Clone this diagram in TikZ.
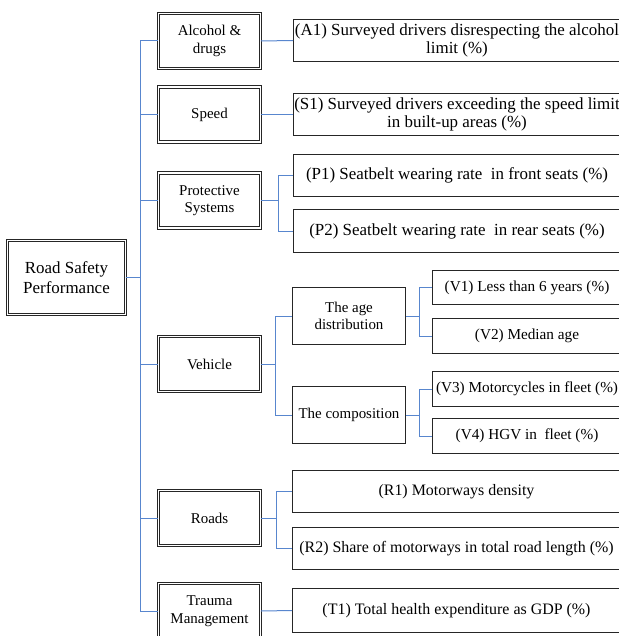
\documentclass[tikz,border=0pt]{standalone}
\usepackage{fontspec}
\setmainfont{Liberation Serif}
\definecolor{linkblue}{RGB}{88,134,206}

\begin{document}
\begin{tikzpicture}[x=1bp, y=-1bp,
    catbox/.style={draw=black!85, double, double distance=1.6bp, line width=0.8bp,
        minimum width=101.8bp, minimum height=55bp, inner sep=1bp, align=center,
        font=\fontsize{15}{17.5}\selectfont},
    rootbox/.style={catbox, minimum width=117.8bp, minimum height=73.8bp,
        font=\fontsize{17}{20}\selectfont},
    indbox/.style={draw=black!85, line width=0.8bp, inner sep=1bp, align=center,
        font=\fontsize{17}{21}\selectfont},
    subbox/.style={indbox, font=\fontsize{16}{19}\selectfont},
    vbox/.style={indbox, minimum width=189bp, minimum height=35bp,
        font=\fontsize{15.3}{18}\selectfont},
    link/.style={draw=linkblue, line width=1bp}]
    \useasboundingbox (0,0) rectangle (619,636);
    \clip (0,0) rectangle (619,636);

    % Root
    \node[rootbox] (root) at (66.5,277.5) {Road Safety\\Performance};

    % Categories
    \node[catbox] (alc) at (209.5,41) {Alcohol \&\\drugs};
    \node[catbox] (spd) at (209.5,114.5) {Speed};
    \node[catbox] (prot) at (209.5,200.5) {Protective\\Systems};
    \node[catbox] (veh) at (209.5,364) {Vehicle};
    \node[catbox] (roads) at (209.5,518) {Roads};
    \node[catbox] (trauma) at (209.5,611) {Trauma\\Management};

    % Indicators
    \node[indbox, minimum width=327bp, minimum height=42bp] (a1) at (457,40.5)
        {\raisebox{-3bp}{(A1) Surveyed drivers disrespecting the alcohol}\\limit (\%)};
    \node[indbox, minimum width=327bp, minimum height=42bp] (s1) at (457,114.5)
        {\raisebox{-3bp}{(S1) Surveyed drivers exceeding the speed limit}\\in built-up areas (\%)};
    \node[indbox, minimum width=327bp, minimum height=42bp] (p1) at (457,175.5)
        {(P1) Seatbelt wearing rate\ \ in front seats (\%)};
    \node[indbox, minimum width=327bp, minimum height=43bp] (p2) at (457,231)
        {(P2) Seatbelt wearing rate\ \ in rear seats (\%)};

    % Vehicle
    \node[catbox, double=none, minimum width=113bp, minimum height=57bp] (age) at (349,316)
        {The age\\distribution};
    \node[catbox, double=none, minimum width=113bp, minimum height=57bp] (comp) at (349,415)
        {The composition};
    \node[vbox, minimum height=34bp] (v1) at (527,287.5) {(V1) Less than 6 years (\%)};
    \node[vbox] (v2) at (527,336) {(V2) Median age};
    \node[vbox] (v3) at (527,389) {(V3) Motorcycles in fleet (\%)};
    \node[vbox] (v4) at (527,436) {(V4) HGV in\ \ fleet (\%)};

    % Roads and trauma
    \node[subbox, minimum width=328bp, minimum height=42bp] (r1) at (456.5,491.5)
        {(R1) Motorways density};
    \node[subbox, minimum width=328bp, minimum height=42bp] (r2) at (456.5,548.5)
        {(R2) Share of motorways in total road length (\%)};
    \node[subbox, minimum width=328bp, minimum height=44bp] (t1) at (456.5,610.5)
        {(T1) Total health expenditure as GDP (\%)};

    % Connectors
    \coordinate (trunk) at (140,277.5);
    \foreach \c in {alc,spd,prot,veh,roads,trauma}
        \draw[link] (root.east) -- (trunk) |- (\c.west);
    \draw[link] (alc.east) -- (a1.west);
    \draw[link] (spd.east) -- (s1.west);
    \draw[link] (trauma.east) -- (t1.west);

    \coordinate (protfork) at (278,200.5);
    \draw[link] (prot.east) -- (protfork) |- (p1.west);
    \draw[link] (prot.east) -- (protfork) |- (p2.west);

    \coordinate (vehfork) at (275,364);
    \draw[link] (veh.east) -- (vehfork) |- (age.west);
    \draw[link] (veh.east) -- (vehfork) |- (comp.west);

    \coordinate (agefork) at (419,316);
    \draw[link] (age.east) -- (agefork) |- (v1.west);
    \draw[link] (age.east) -- (agefork) |- (v2.west);

    \coordinate (compfork) at (419,415);
    \draw[link] (comp.east) -- (compfork) |- (v3.west);
    \draw[link] (comp.east) -- (compfork) |- (v4.west);

    \coordinate (roadfork) at (276,518);
    \draw[link] (roads.east) -- (roadfork) |- (r1.west);
    \draw[link] (roads.east) -- (roadfork) |- (r2.west);
\end{tikzpicture}
\end{document}
